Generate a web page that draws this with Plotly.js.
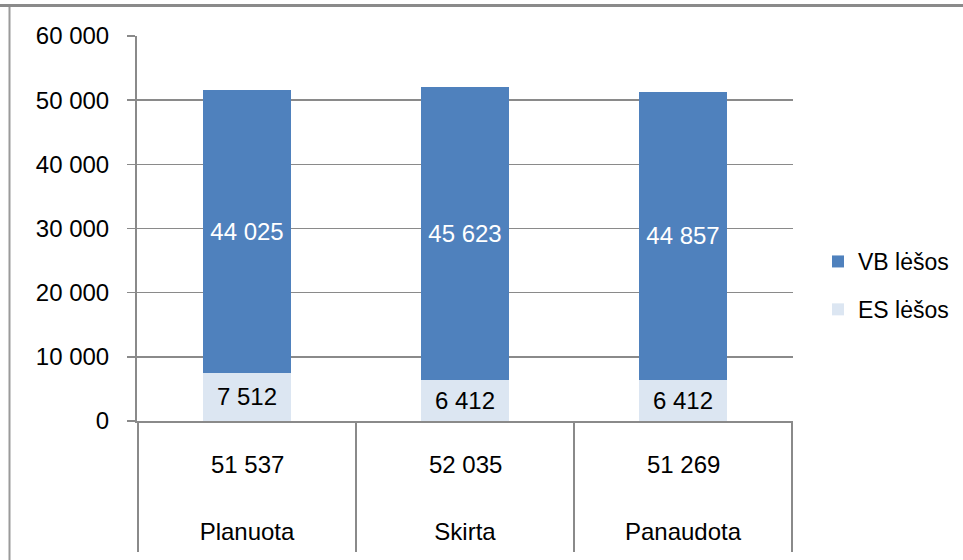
<!DOCTYPE html>
<html>
<head>
<meta charset="utf-8">
<script src="https://cdn.plot.ly/plotly-3.0.1.min.js"></script>
<style>html,body{margin:0;padding:0;background:#fff;}#chart{width:963px;height:560px;}</style>
</head>
<body>
<div id="chart"></div>
<script>
const categories = ["Planuota", "Skirta", "Panaudota"];
const esValues = [7512, 6412, 6412];
const vbValues = [44025, 45623, 44857];
const seriesNames = ["ES lėšos", "VB lėšos"];
const yTicks = [0, 10000, 20000, 30000, 40000, 50000, 60000];

function fmt(n) {
  return String(n).replace(/\B(?=(\d{3})+(?!\d))/g, " ");
}
const totals = categories.map((c, i) => esValues[i] + vbValues[i]);

const FONT = "Liberation Sans, Arial, sans-serif";
const FS = 24;
const GRID = "#8a8a8a";

const traces = [
  {
    type: "bar", name: seriesNames[0], x: categories, y: esValues,
    marker: {color: "#DCE6F2"},
    text: esValues.map(fmt), textposition: "inside", insidetextanchor: "middle",
    constraintext: "none", textangle: 0,
    textfont: {family: FONT, size: FS, color: "#000"},
    legendgroup: "es", legendrank: 2, hoverinfo: "skip"
  },
  {
    type: "bar", name: seriesNames[1], x: categories, y: vbValues,
    marker: {color: "#4F81BD"},
    text: vbValues.map(fmt), textposition: "inside", insidetextanchor: "middle",
    constraintext: "none", textangle: 0,
    textfont: {family: FONT, size: FS, color: "#fff"},
    legendgroup: "vb", legendrank: 1, hoverinfo: "skip"
  }
];

const plotH = 385;
const annotations = categories.map((c, i) => ({
  x: c, xref: "x", y: -(464 - 421) / plotH, yref: "paper",
  text: fmt(totals[i]), showarrow: false, yanchor: "middle", xanchor: "center",
  font: {family: FONT, size: FS, color: "#000"}
}));

const shapes = [];
for (let k = 0; k <= categories.length; k++) {
  shapes.push({
    type: "line", xref: "x", yref: "paper",
    x0: k - 0.5, x1: k - 0.5, y0: 0, y1: -(552 - 421) / plotH,
    line: {color: GRID, width: 2}
  });
}
// page frame
shapes.push({type: "line", xref: "paper", yref: "paper",
  x0: (0 - 137) / 656, x1: (963 - 137) / 656, y0: (421 - 5.5) / plotH, y1: (421 - 5.5) / plotH,
  line: {color: "#8a8a8a", width: 3}});
shapes.push({type: "line", xref: "paper", yref: "paper",
  x0: (9.5 - 137) / 656, x1: (9.5 - 137) / 656, y0: (421 - 7) / plotH, y1: (421 - 560) / plotH,
  line: {color: "#9a9a9a", width: 2}});

const layout = {
  width: 963, height: 560,
  margin: {l: 137, r: 170, t: 36, b: 139, autoexpand: false},
  paper_bgcolor: "#fff", plot_bgcolor: "#fff",
  barmode: "stack", bargap: 0.6,
  separators: ", ",
  font: {family: FONT, size: FS, color: "#000"},
  showlegend: true,
  legend: {
    x: (818 - 137) / 656, xanchor: "left", y: (421 - 240) / plotH, yanchor: "top",
    traceorder: "grouped", tracegroupgap: 15,
    font: {family: FONT, size: FS - 1, color: "#000"},
    bgcolor: "rgba(0,0,0,0)", itemwidth: 30
  },
  xaxis: {
    type: "category", showgrid: false, showline: true, linecolor: GRID, linewidth: 2,
    ticks: "", tickfont: {family: FONT, size: FS, color: "#000"},
    ticklabelstandoff: 88, fixedrange: true, zeroline: false, automargin: false
  },
  yaxis: {
    range: [0, 60000], tickvals: yTicks, tickformat: ",d",
    showgrid: true, gridcolor: GRID, gridwidth: 1.6,
    showline: true, linecolor: GRID, linewidth: 2,
    ticks: "outside", ticklen: 8, tickcolor: GRID, tickwidth: 1.6,
    ticklabelstandoff: 13, zeroline: false, automargin: false,
    tickfont: {family: FONT, size: FS, color: "#000"}, fixedrange: true
  },
  annotations: annotations,
  shapes: shapes
};

Plotly.newPlot("chart", traces, layout, {displayModeBar: false, staticPlot: true});
</script>
</body>
</html>
